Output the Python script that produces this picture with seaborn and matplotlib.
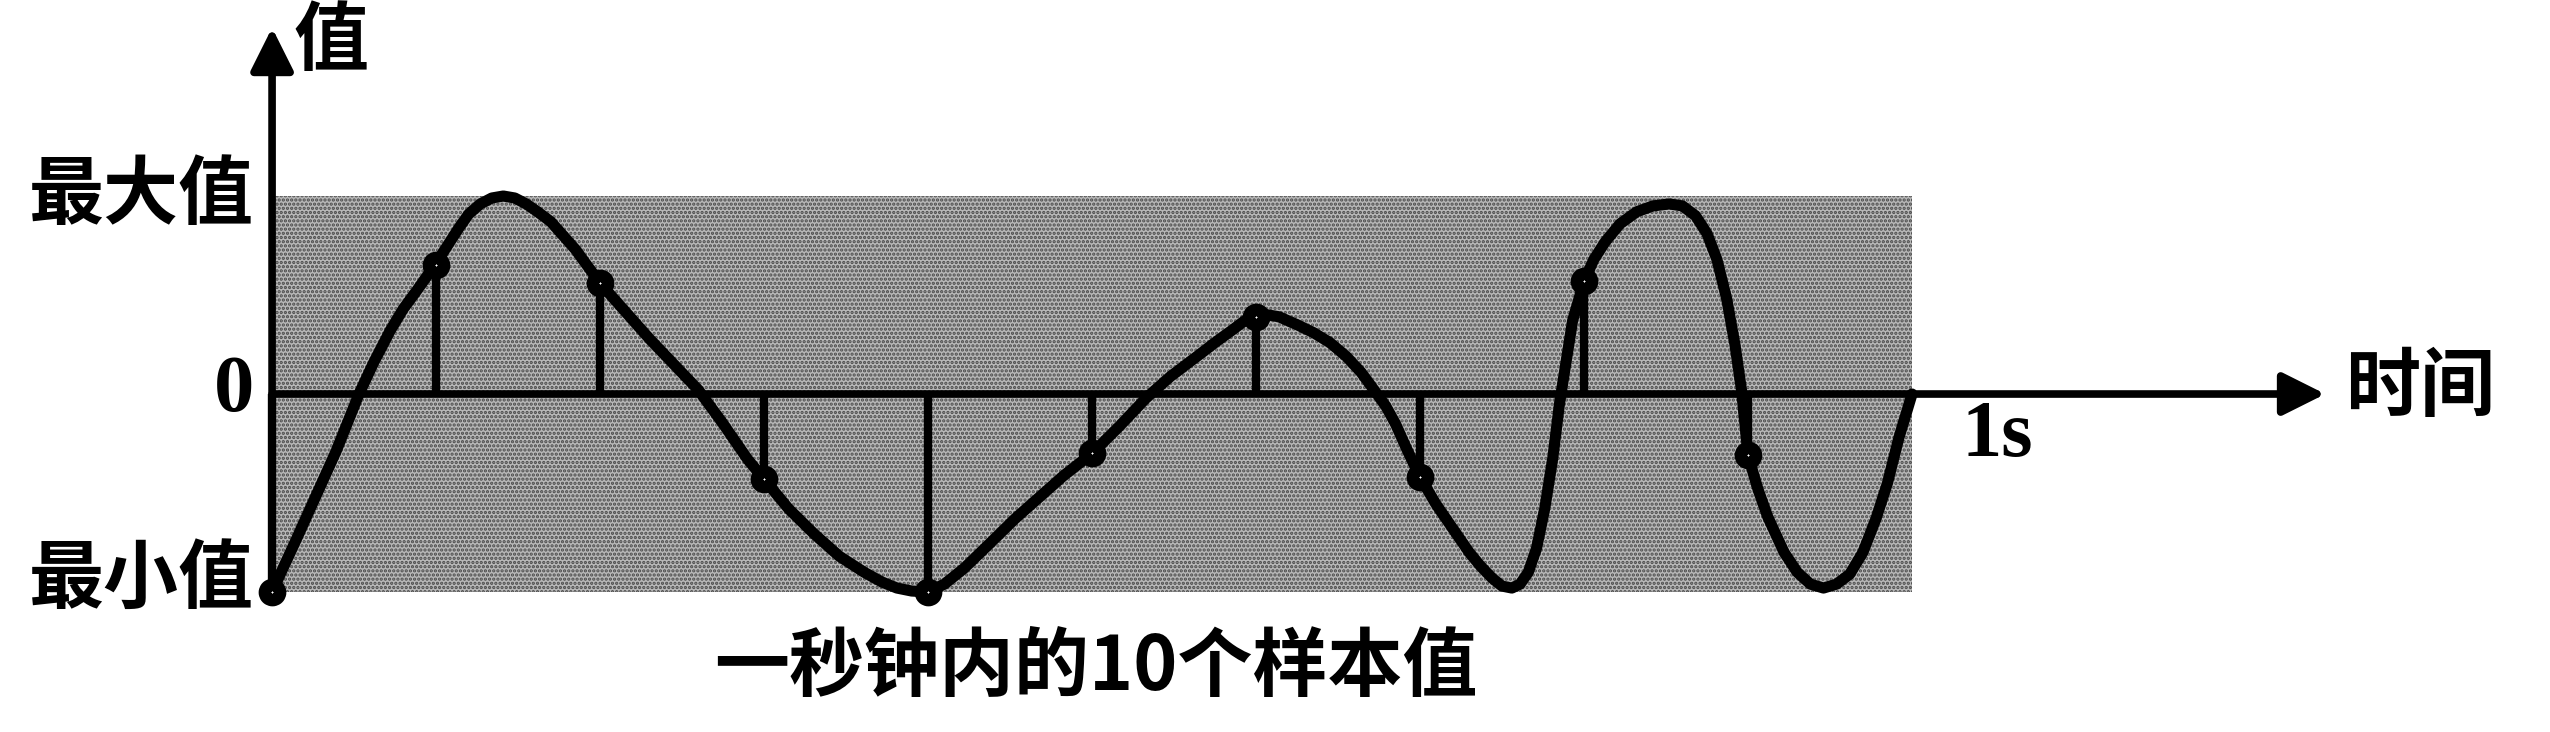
import matplotlib
matplotlib.use("Agg")
import matplotlib.pyplot as plt
from matplotlib.patches import Rectangle
import seaborn as sns
import pandas as pd

# ---- data ----
# sample times (s) and sampled values (max = 1, min = -1)
sample_t = [0.0, 0.1, 0.2, 0.3, 0.4, 0.5, 0.6, 0.7, 0.8, 0.9]
sample_v = [-1.00, 0.65, 0.56, -0.43, -1.00, -0.30, 0.39, -0.42, 0.57, -0.31]

# traced points of the continuous signal (time in s, value)
curve_t = [0.000, 0.015, 0.027, 0.039, 0.053, 0.062, 0.072, 0.080, 0.088, 0.094,
           0.100, 0.107, 0.114, 0.120, 0.127, 0.134, 0.141, 0.148, 0.155, 0.162,
           0.170, 0.185, 0.200, 0.215, 0.230, 0.245, 0.260, 0.275, 0.290, 0.300,
           0.315, 0.331, 0.346, 0.361, 0.372, 0.381, 0.390, 0.400, 0.410, 0.422,
           0.437, 0.453, 0.468, 0.483, 0.500, 0.517, 0.533, 0.548, 0.564, 0.575,
           0.585, 0.593, 0.600, 0.607, 0.614, 0.625, 0.635, 0.645, 0.655, 0.664,
           0.672, 0.679, 0.685, 0.692, 0.700, 0.710, 0.720, 0.730, 0.737, 0.744,
           0.750, 0.756, 0.761, 0.766, 0.771, 0.776, 0.781, 0.785, 0.793, 0.800,
           0.806, 0.813, 0.822, 0.832, 0.842, 0.852, 0.860, 0.868, 0.875, 0.881,
           0.887, 0.892, 0.896, 0.900, 0.906, 0.912, 0.922, 0.930, 0.938, 0.946,
           0.954, 0.962, 0.970, 0.978, 0.985, 0.992, 1.000]
curve_v = [-1.00, -0.73, -0.51, -0.29, 0.00, 0.16, 0.32, 0.43, 0.52, 0.59,
           0.66, 0.75, 0.84, 0.91, 0.96, 0.99, 1.00, 0.99, 0.96, 0.92,
           0.87, 0.73, 0.56, 0.42, 0.28, 0.15, 0.02, -0.15, -0.33, -0.43,
           -0.58, -0.71, -0.82, -0.90, -0.95, -0.98, -0.995, -1.00, -0.96, -0.88,
           -0.76, -0.63, -0.52, -0.41, -0.30, -0.16, -0.02, 0.09, 0.19, 0.26,
           0.32, 0.37, 0.39, 0.40, 0.39, 0.35, 0.31, 0.26, 0.19, 0.11,
           0.02, -0.06, -0.15, -0.28, -0.42, -0.56, -0.68, -0.80, -0.87, -0.93,
           -0.97, -0.98, -0.96, -0.90, -0.78, -0.58, -0.32, -0.05, 0.37, 0.57,
           0.68, 0.77, 0.86, 0.92, 0.95, 0.96, 0.95, 0.90, 0.81, 0.68,
           0.48, 0.25, 0.02, -0.31, -0.48, -0.62, -0.80, -0.90, -0.96, -0.98,
           -0.96, -0.91, -0.80, -0.63, -0.45, -0.22, 0.00]

max_val, min_val = 1.0, -1.0
duration = 1.0

y_labels = ["最大值", "0", "最小值"]
y_label_vals = [max_val, 0.0, min_val]
y_axis_title = "值"
x_axis_title = "时间"
end_label = "1s"
caption = "一秒钟内的10个样本值"

# ---- figure ----
sns.set_theme(style="white")
plt.rcParams["font.family"] = ["Noto Sans CJK SC", "DejaVu Sans"]
plt.rcParams["hatch.linewidth"] = 1.6

fig = plt.figure(figsize=(25.5, 7.32), dpi=100)
ax = fig.add_axes([0, 0, 1, 1])

# shaded value range (stippled grey)
ax.add_patch(Rectangle((0, min_val), duration, max_val - min_val,
                       facecolor="#b8b8b8", edgecolor="#4a4a4a", linewidth=0,
                       hatch="....", zorder=0))

# axes with arrows
arrow_kw = dict(arrowstyle="-|>,head_length=2.6,head_width=1.3", color="black",
                lw=5.5, shrinkA=0, shrinkB=0, mutation_scale=10)
ax.annotate("", xy=(0, 1.85), xytext=(0, min_val), arrowprops=arrow_kw, zorder=3)
ax.annotate("", xy=(1.252, 0), xytext=(0, 0), arrowprops=arrow_kw, zorder=3)

# stems
ax.vlines(sample_t, 0, sample_v, colors="black", linewidth=6, zorder=3)

# signal curve
df_curve = pd.DataFrame({"t": curve_t, "v": curve_v})
sns.lineplot(data=df_curve, x="t", y="v", sort=False, color="black",
             linewidth=8, ax=ax, zorder=4, solid_joinstyle="round",
             solid_capstyle="round")

# sample markers (thick dark rings with a small light centre)
df_s = pd.DataFrame({"t": sample_t, "v": sample_v})
sns.scatterplot(data=df_s, x="t", y="v", s=120, color="white", edgecolor="black",
                linewidth=9, ax=ax, zorder=6)

ax.set_xlim(-0.1659, 1.3890)
ax.set_ylim(-1.707, 1.990)
ax.axis("off")

cjk = dict(fontsize=54, fontweight="bold", color="black")
serif = dict(fontsize=58, fontweight="bold", color="black",
             family=["Liberation Serif", "DejaVu Serif"])

for lab, val in zip(y_labels, y_label_vals):
    if lab == "0":
        ax.text(-0.011, val + 0.015, lab, ha="right", va="center", **serif)
    else:
        ax.text(-0.011, val + (0.0 if val > 0 else 0.06), lab,
                ha="right", va="center", **cjk)

ax.text(0.036, 1.78, y_axis_title, ha="center", va="center", **cjk)
ax.text(1.264, 0.03, x_axis_title, ha="left", va="center", **cjk)
ax.text(1.030, -0.217, end_label, ha="left", va="center", **serif)
ax.text(0.5024, -1.384, caption, ha="center", va="center", **cjk)

fig.savefig("out.png", dpi=100)
